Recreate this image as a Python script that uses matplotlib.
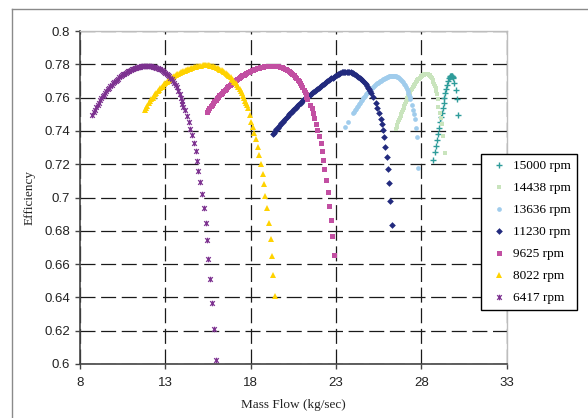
import matplotlib
matplotlib.use("Agg")
import matplotlib.pyplot as plt
from matplotlib.path import Path
from matplotlib.lines import Line2D

# ---------------- data ----------------
labels = ["15000 rpm", "14438 rpm", "13636 rpm", "11230 rpm", "9625 rpm", "8022 rpm", "6417 rpm"]

flow_15000 = [28.70, 28.80, 28.84, 28.90, 28.95, 29.03, 29.07, 29.13, 29.19, 29.25, 29.31, 29.34, 29.40,
              29.44, 29.48, 29.56, 29.62, 29.66, 29.69, 29.72, 29.75, 29.78, 29.81, 29.84, 29.87, 29.94,
              30.01, 30.06, 30.13]
eff_15000 = [0.7223, 0.7275, 0.7307, 0.7345, 0.7383, 0.7420, 0.7452, 0.7483, 0.7508, 0.7538, 0.7568, 0.7596,
             0.7626, 0.7652, 0.7673, 0.7700, 0.7716, 0.7722, 0.7727, 0.7729, 0.7731, 0.7731, 0.7729, 0.7725,
             0.7718, 0.7686, 0.7646, 0.7590, 0.7495]

flow_14438 = [26.51, 26.55, 26.60, 26.64, 26.69, 26.73, 26.78, 26.82, 26.87, 26.91, 26.96, 27.00, 27.05,
              27.09, 27.14, 27.18, 27.23, 27.27, 27.32, 27.36, 27.41, 27.45, 27.50, 27.54, 27.59, 27.63,
              27.68, 27.72, 27.77, 27.81, 27.86, 27.90, 27.95, 27.99, 28.04, 28.08, 28.13, 28.17, 28.22,
              28.26, 28.31, 28.35, 28.40, 28.44, 28.49, 28.53, 28.58, 28.62, 28.67, 28.71, 28.76, 28.80,
              28.84, 28.88, 28.91, 28.96, 29.00, 29.08, 29.14, 29.18, 29.28, 29.40]
eff_14438 = [0.7411, 0.7424, 0.7438, 0.7451, 0.7464, 0.7477, 0.7490, 0.7503, 0.7515, 0.7528, 0.7540, 0.7552,
             0.7564, 0.7576, 0.7587, 0.7598, 0.7608, 0.7618, 0.7628, 0.7637, 0.7646, 0.7654, 0.7662, 0.7670,
             0.7677, 0.7684, 0.7691, 0.7697, 0.7703, 0.7709, 0.7714, 0.7719, 0.7723, 0.7727, 0.7731, 0.7734,
             0.7737, 0.7739, 0.7741, 0.7742, 0.7742, 0.7741, 0.7740, 0.7737, 0.7734, 0.7729, 0.7723, 0.7715,
             0.7706, 0.7695, 0.7683, 0.7670, 0.7656, 0.7641, 0.7624, 0.7590, 0.7545, 0.7505, 0.7475, 0.7440,
             0.7370, 0.7265]

flow_13636 = [23.52, 23.72, 24.00, 24.06, 24.12, 24.18, 24.24, 24.30, 24.36, 24.42, 24.48, 24.54, 24.60,
              24.66, 24.72, 24.78, 24.84, 24.90, 24.96, 25.02, 25.08, 25.14, 25.20, 25.26, 25.32, 25.38,
              25.44, 25.50, 25.56, 25.62, 25.68, 25.74, 25.80, 25.86, 25.92, 25.98, 26.04, 26.10, 26.16,
              26.22, 26.28, 26.34, 26.40, 26.46, 26.52, 26.58, 26.64, 26.70, 26.76, 26.82, 26.88, 26.94,
              27.00, 27.05, 27.10, 27.15, 27.19, 27.23, 27.27, 27.31, 27.34, 27.43, 27.53, 27.58, 27.62,
              27.67, 27.76, 27.80]
eff_13636 = [0.7425, 0.7455, 0.7506, 0.7515, 0.7524, 0.7533, 0.7542, 0.7551, 0.7560, 0.7569, 0.7577, 0.7587,
             0.7595, 0.7604, 0.7612, 0.7620, 0.7628, 0.7636, 0.7643, 0.7650, 0.7657, 0.7663, 0.7669, 0.7675,
             0.7680, 0.7685, 0.7690, 0.7694, 0.7698, 0.7702, 0.7706, 0.7710, 0.7713, 0.7717, 0.7720, 0.7723,
             0.7726, 0.7728, 0.7730, 0.7731, 0.7732, 0.7732, 0.7731, 0.7730, 0.7728, 0.7725, 0.7722, 0.7718,
             0.7713, 0.7707, 0.7700, 0.7692, 0.7683, 0.7673, 0.7662, 0.7651, 0.7640, 0.7628, 0.7616, 0.7603,
             0.7590, 0.7556, 0.7526, 0.7500, 0.7470, 0.7416, 0.7362, 0.7175]

flow_11230 = [19.28, 19.35, 19.43, 19.50, 19.58, 19.65, 19.73, 19.80, 19.88, 19.95, 20.03, 20.10, 20.18,
              20.25, 20.33, 20.40, 20.48, 20.55, 20.63, 20.70, 20.78, 20.85, 20.93, 21.00, 21.08, 21.15,
              21.23, 21.30, 21.38, 21.45, 21.53, 21.60, 21.68, 21.75, 21.83, 21.90, 21.98, 22.05, 22.13,
              22.20, 22.28, 22.35, 22.43, 22.50, 22.58, 22.65, 22.73, 22.80, 22.88, 22.95, 23.03, 23.10,
              23.18, 23.25, 23.33, 23.40, 23.48, 23.55, 23.63, 23.70, 23.78, 23.85, 23.93, 24.00, 24.08,
              24.15, 24.23, 24.30, 24.38, 24.45, 24.53, 24.60, 24.68, 24.75, 24.83, 24.90, 24.96, 25.02,
              25.07, 25.18, 25.34, 25.42, 25.53, 25.62, 25.72, 25.75, 25.81, 25.89, 25.96, 26.03, 26.11,
              26.17, 26.28]
eff_11230 = [0.7381, 0.7390, 0.7400, 0.7410, 0.7419, 0.7428, 0.7438, 0.7447, 0.7456, 0.7465, 0.7474, 0.7482,
             0.7491, 0.7500, 0.7508, 0.7516, 0.7524, 0.7532, 0.7540, 0.7548, 0.7555, 0.7563, 0.7570, 0.7577,
             0.7584, 0.7591, 0.7598, 0.7605, 0.7611, 0.7618, 0.7624, 0.7630, 0.7636, 0.7642, 0.7648, 0.7653,
             0.7659, 0.7665, 0.7671, 0.7677, 0.7683, 0.7689, 0.7694, 0.7700, 0.7705, 0.7710, 0.7715, 0.7720,
             0.7725, 0.7730, 0.7735, 0.7740, 0.7744, 0.7748, 0.7751, 0.7753, 0.7755, 0.7756, 0.7756, 0.7755,
             0.7754, 0.7752, 0.7749, 0.7745, 0.7741, 0.7736, 0.7731, 0.7725, 0.7719, 0.7712, 0.7705, 0.7697,
             0.7689, 0.7680, 0.7670, 0.7660, 0.7650, 0.7640, 0.7630, 0.7601, 0.7566, 0.7536, 0.7506, 0.7471,
             0.7441, 0.7405, 0.7363, 0.7305, 0.7245, 0.7174, 0.7085, 0.6979, 0.6835]

flow_9625 = [15.42, 15.50, 15.57, 15.65, 15.72, 15.80, 15.87, 15.95, 16.02, 16.10, 16.17, 16.25, 16.32,
             16.40, 16.47, 16.55, 16.62, 16.70, 16.77, 16.85, 16.92, 17.00, 17.07, 17.15, 17.22, 17.30,
             17.37, 17.45, 17.52, 17.60, 17.67, 17.75, 17.82, 17.90, 17.97, 18.05, 18.12, 18.20, 18.27,
             18.35, 18.42, 18.50, 18.57, 18.65, 18.72, 18.80, 18.87, 18.95, 19.02, 19.10, 19.17, 19.25,
             19.32, 19.40, 19.47, 19.55, 19.62, 19.70, 19.77, 19.85, 19.92, 20.00, 20.07, 20.15, 20.22,
             20.30, 20.37, 20.45, 20.52, 20.60, 20.67, 20.75, 20.82, 20.90, 20.97, 21.03, 21.10, 21.16,
             21.22, 21.27, 21.32, 21.47, 21.57, 21.67, 21.73, 21.83, 21.90, 22.00, 22.10, 22.16, 22.25,
             22.31, 22.41, 22.53, 22.59, 22.69, 22.75, 22.86]
eff_9625 = [0.7515, 0.7526, 0.7537, 0.7547, 0.7557, 0.7567, 0.7577, 0.7587, 0.7596, 0.7605, 0.7613, 0.7622,
            0.7630, 0.7638, 0.7646, 0.7654, 0.7661, 0.7668, 0.7675, 0.7682, 0.7688, 0.7694, 0.7700, 0.7706,
            0.7712, 0.7718, 0.7723, 0.7728, 0.7733, 0.7738, 0.7742, 0.7747, 0.7751, 0.7755, 0.7759, 0.7763,
            0.7766, 0.7769, 0.7772, 0.7775, 0.7778, 0.7780, 0.7782, 0.7784, 0.7786, 0.7788, 0.7789, 0.7790,
            0.7791, 0.7792, 0.7792, 0.7792, 0.7792, 0.7792, 0.7791, 0.7790, 0.7788, 0.7786, 0.7784, 0.7781,
            0.7778, 0.7774, 0.7770, 0.7765, 0.7760, 0.7754, 0.7748, 0.7741, 0.7734, 0.7726, 0.7717, 0.7707,
            0.7697, 0.7686, 0.7674, 0.7661, 0.7648, 0.7634, 0.7620, 0.7606, 0.7592, 0.7556, 0.7536, 0.7506,
            0.7476, 0.7441, 0.7405, 0.7369, 0.7326, 0.7279, 0.7225, 0.7169, 0.7105, 0.7035, 0.6951, 0.6865,
            0.6769, 0.6653]

flow_8022 = [11.81, 11.88, 11.95, 12.03, 12.10, 12.18, 12.25, 12.33, 12.40, 12.48, 12.55, 12.63, 12.70,
             12.78, 12.85, 12.93, 13.00, 13.08, 13.15, 13.23, 13.30, 13.38, 13.45, 13.53, 13.60, 13.68,
             13.75, 13.83, 13.90, 13.98, 14.05, 14.13, 14.20, 14.28, 14.35, 14.43, 14.50, 14.58, 14.65,
             14.73, 14.80, 14.88, 14.95, 15.03, 15.10, 15.18, 15.25, 15.33, 15.40, 15.48, 15.55, 15.63,
             15.70, 15.78, 15.85, 15.93, 16.00, 16.08, 16.15, 16.23, 16.30, 16.38, 16.45, 16.53, 16.60,
             16.68, 16.75, 16.83, 16.90, 16.98, 17.05, 17.13, 17.20, 17.28, 17.35, 17.43, 17.50, 17.56,
             17.62, 17.68, 17.73, 17.78, 17.82, 17.94, 18.04, 18.12, 18.21, 18.29, 18.43, 18.50, 18.60,
             18.70, 18.80, 18.86, 18.97, 19.09, 19.19, 19.25, 19.32, 19.44]
eff_8022 = [0.7523, 0.7537, 0.7551, 0.7565, 0.7577, 0.7589, 0.7600, 0.7610, 0.7620, 0.7629, 0.7638, 0.7647,
            0.7655, 0.7663, 0.7671, 0.7679, 0.7686, 0.7693, 0.7700, 0.7706, 0.7712, 0.7718, 0.7724, 0.7729,
            0.7734, 0.7739, 0.7743, 0.7747, 0.7751, 0.7755, 0.7758, 0.7762, 0.7765, 0.7768, 0.7771, 0.7774,
            0.7777, 0.7780, 0.7782, 0.7784, 0.7786, 0.7788, 0.7789, 0.7791, 0.7792, 0.7793, 0.7793, 0.7794,
            0.7794, 0.7794, 0.7793, 0.7792, 0.7790, 0.7788, 0.7786, 0.7783, 0.7780, 0.7776, 0.7772, 0.7768,
            0.7763, 0.7758, 0.7753, 0.7747, 0.7741, 0.7735, 0.7728, 0.7721, 0.7713, 0.7705, 0.7696, 0.7686,
            0.7676, 0.7665, 0.7653, 0.7640, 0.7626, 0.7612, 0.7598, 0.7582, 0.7566, 0.7553, 0.7540, 0.7496,
            0.7452, 0.7422, 0.7386, 0.7350, 0.7305, 0.7255, 0.7199, 0.7139, 0.7079, 0.7011, 0.6935, 0.6845,
            0.6753, 0.6651, 0.6535, 0.6410]

flow_6417 = [8.73, 8.80, 8.88, 8.95, 9.03, 9.10, 9.18, 9.25, 9.33, 9.40, 9.48, 9.55, 9.63, 9.70, 9.78,
             9.85, 9.93, 10.00, 10.08, 10.15, 10.23, 10.30, 10.38, 10.45, 10.53, 10.60, 10.68, 10.75,
             10.83, 10.90, 10.98, 11.05, 11.13, 11.20, 11.28, 11.35, 11.43, 11.50, 11.58, 11.65, 11.73,
             11.80, 11.88, 11.95, 12.03, 12.10, 12.18, 12.25, 12.33, 12.40, 12.48, 12.55, 12.63, 12.70,
             12.78, 12.85, 12.93, 13.00, 13.08, 13.15, 13.23, 13.30, 13.38, 13.45, 13.53, 13.60, 13.68,
             13.75, 13.83, 13.89, 13.95, 14.00, 14.05, 14.13, 14.25, 14.37, 14.44, 14.56, 14.66, 14.78,
             14.84, 14.93, 15.05, 15.13, 15.25, 15.36, 15.46, 15.52, 15.63, 15.73, 15.83, 15.95]
eff_6417 = [0.7495, 0.7511, 0.7527, 0.7542, 0.7556, 0.7570, 0.7583, 0.7595, 0.7607, 0.7618, 0.7629, 0.7639,
            0.7649, 0.7659, 0.7668, 0.7677, 0.7685, 0.7693, 0.7700, 0.7707, 0.7714, 0.7721, 0.7727, 0.7733,
            0.7739, 0.7744, 0.7749, 0.7754, 0.7758, 0.7762, 0.7766, 0.7770, 0.7773, 0.7776, 0.7779, 0.7782,
            0.7784, 0.7786, 0.7788, 0.7789, 0.7790, 0.7791, 0.7791, 0.7791, 0.7790, 0.7789, 0.7788, 0.7786,
            0.7784, 0.7782, 0.7779, 0.7776, 0.7773, 0.7769, 0.7765, 0.7760, 0.7755, 0.7749, 0.7743, 0.7736,
            0.7728, 0.7720, 0.7711, 0.7701, 0.7690, 0.7677, 0.7661, 0.7642, 0.7620, 0.7600, 0.7580, 0.7563,
            0.7545, 0.7526, 0.7491, 0.7452, 0.7411, 0.7375, 0.7326, 0.7277, 0.7221, 0.7157, 0.7091, 0.7019,
            0.6939, 0.6845, 0.6743, 0.6632, 0.6509, 0.6365, 0.6208, 0.6026]

x_ticks = [8, 13, 18, 23, 28, 33]
y_ticks = [0.6, 0.62, 0.64, 0.66, 0.68, 0.7, 0.72, 0.74, 0.76, 0.78, 0.8]
y_tick_labels = ["0.6", "0.62", "0.64", "0.66", "0.68", "0.7", "0.72", "0.74", "0.76", "0.78", "0.8"]

# ---------------- styles ----------------
star = Path([(-1, -1), (1, 1), (-1, 1), (1, -1), (0, -1.2), (0, 1.2)],
            [Path.MOVETO, Path.LINETO, Path.MOVETO, Path.LINETO, Path.MOVETO, Path.LINETO])

series = [
    (flow_15000, eff_15000, dict(marker="+", color="#2E9C9A", ms=5.0, mew=1.0)),
    (flow_14438, eff_14438, dict(marker="s", color="#C9E4BD", ms=3.3, mew=0)),
    (flow_13636, eff_13636, dict(marker="o", color="#A0CCEC", ms=3.4, mew=0)),
    (flow_11230, eff_11230, dict(marker="D", color="#222A7E", ms=3.4, mew=0)),
    (flow_9625, eff_9625, dict(marker="s", color="#C24FA2", ms=3.6, mew=0)),
    (flow_8022, eff_8022, dict(marker="^", color="#FFD200", ms=4.4, mew=0)),
    (flow_6417, eff_6417, dict(marker=star, color="#7D3290", ms=4.0, mew=0.9)),
]

W, H = 588, 418
fig = plt.figure(figsize=(W / 100, H / 100), dpi=100)
fig.patch.set_facecolor("white")

# outer chart-area border (only left and top visible)
fig.add_artist(Line2D([12 / W, 12 / W], [0, 1 - 9 / H], color="#8a8a8a", lw=1.0))
fig.add_artist(Line2D([12 / W, 1], [1 - 9 / H, 1 - 9 / H], color="#8a8a8a", lw=1.0))

ax = fig.add_axes([80 / W, 1 - 364 / H, (506.7 - 80) / W, (364 - 31) / H])
ax.set_xlim(8, 33)
ax.set_ylim(0.6, 0.8)
ax.set_xticks(x_ticks)
ax.set_yticks(y_ticks)
ax.set_yticklabels(y_tick_labels)

ax.grid(True, color="#1a1a1a", lw=0.9, linestyle=(0, (12, 4.5)))
ax.set_axisbelow(True)

for sp in ["left", "bottom"]:
    ax.spines[sp].set_color("#444444")
    ax.spines[sp].set_linewidth(1.2)
for sp in ["top", "right"]:
    ax.spines[sp].set_color("#bdbdbd")
    ax.spines[sp].set_linewidth(1.0)

ax.tick_params(axis="both", direction="out", length=3.5, width=1.0, color="#444444",
               labelsize=9.5, labelcolor="#222222")
ax.tick_params(axis="x", pad=6)
ax.tick_params(axis="y", pad=3.5)
for lab in ax.get_xticklabels() + ax.get_yticklabels():
    lab.set_fontfamily("Liberation Sans")

handles = []
for i, ((xs, ys, st), lab) in enumerate(zip(series, labels)):
    h, = ax.plot(xs, ys, linestyle="none", marker=st["marker"], color=st["color"],
                 markersize=st["ms"], markeredgewidth=st["mew"], markeredgecolor=st["color"],
                 label=lab, zorder=3 + i, clip_on=False)
    handles.append(h)

fig.text(30 / W, 1 - 197 / H, "Efficiency", rotation=90, ha="center", va="center",
         fontfamily="Liberation Serif", fontsize=9.5, color="#222222")
fig.text(293 / W, 1 - 405 / H, "Mass Flow (kg/sec)", ha="center", va="center",
         fontfamily="Liberation Serif", fontsize=9.5, color="#222222")

leg = fig.legend(handles=handles, labels=labels, loc="upper left",
                 bbox_to_anchor=(480.7 / W, 1 - 154.3 / H), bbox_transform=fig.transFigure,
                 prop={"family": "Liberation Serif", "size": 9.5}, frameon=True, fancybox=False,
                 edgecolor="black", framealpha=1, borderpad=0.45, labelspacing=0.74,
                 handlelength=1.9, handletextpad=0.1, borderaxespad=0, numpoints=1,
                 markerscale=1.0)
leg.get_frame().set_linewidth(1.0)
leg.set_zorder(20)

fig.savefig("out.png", dpi=100, facecolor="white")
